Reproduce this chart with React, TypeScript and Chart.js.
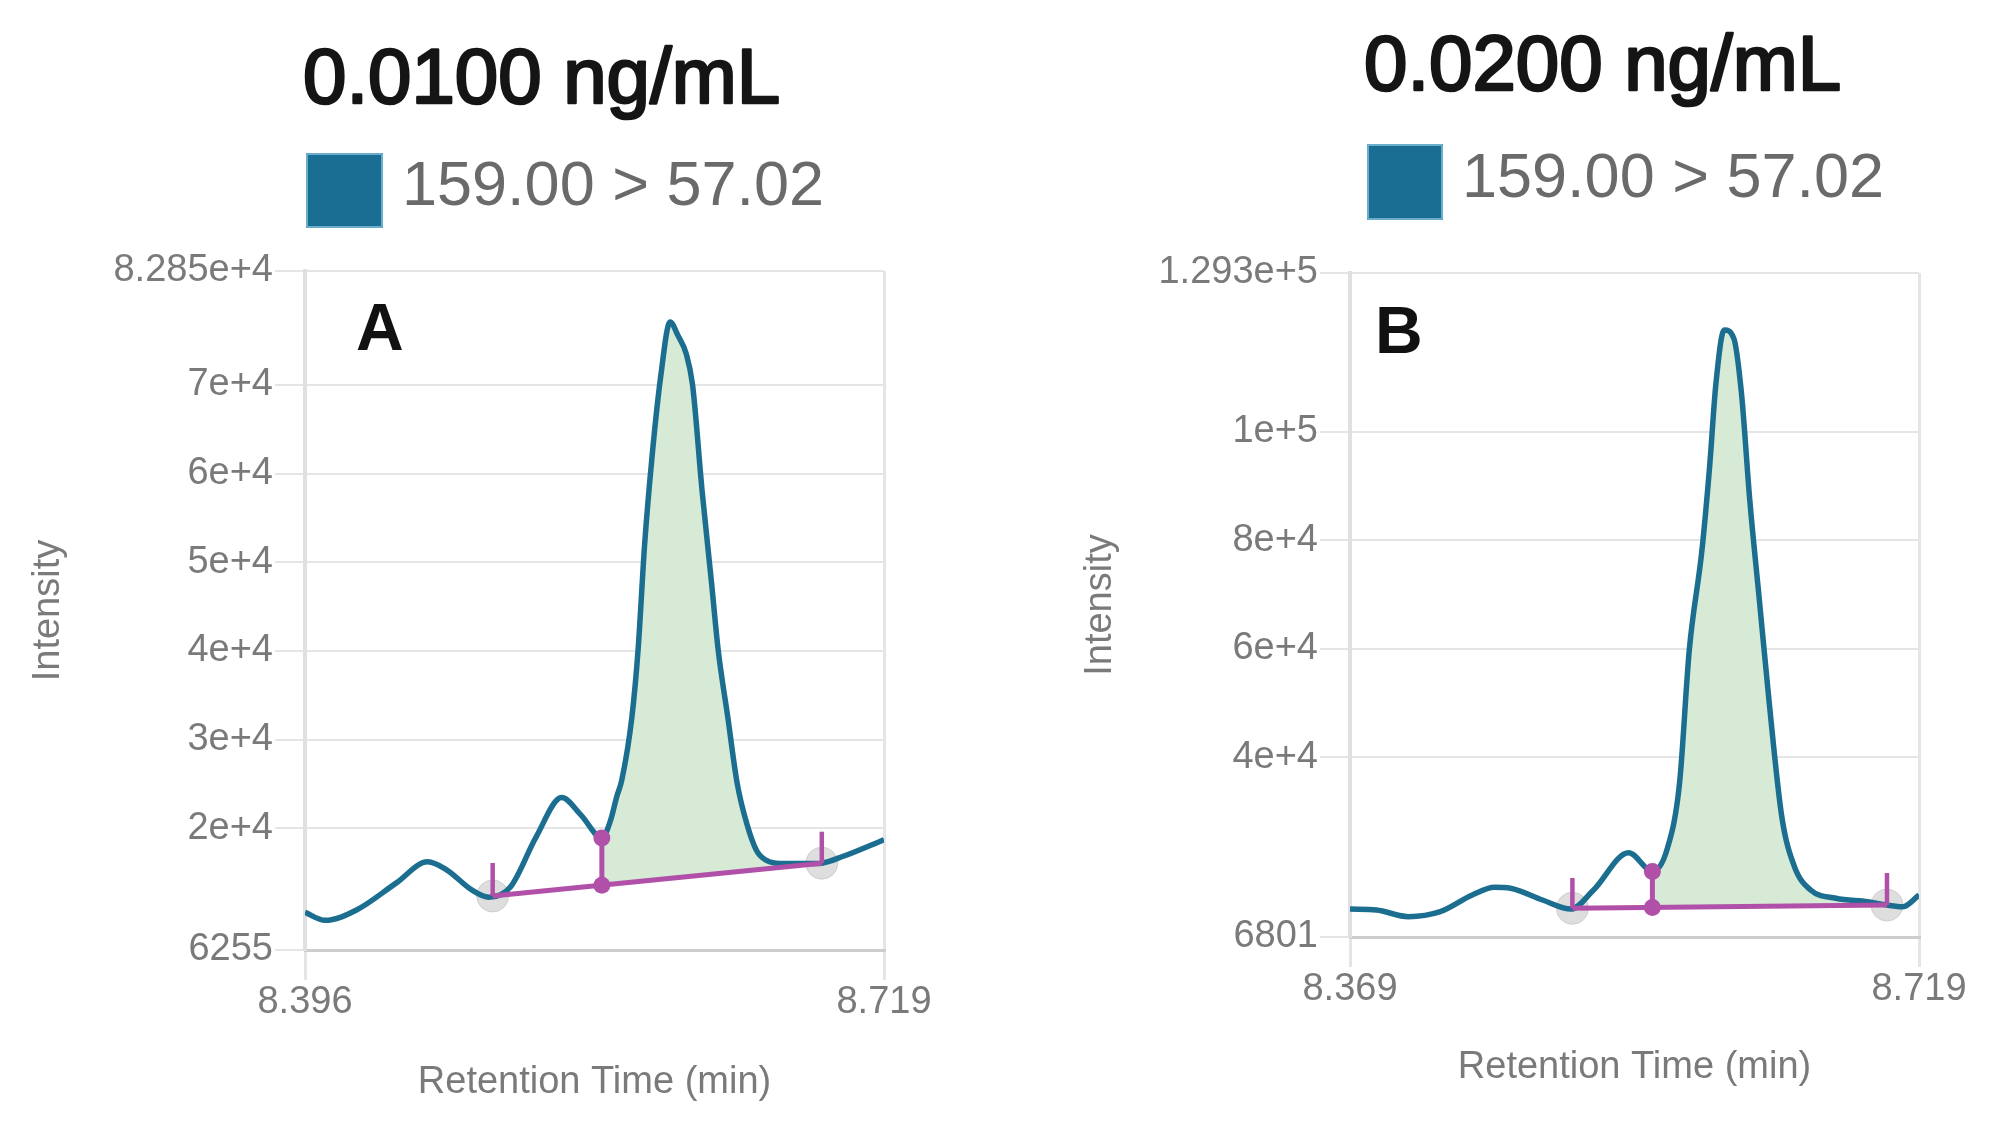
import React, { useEffect, useRef } from "react";
import { Chart, registerables } from "chart.js";

Chart.register(...registerables);

// ---------------- Shared labels ----------------
const transitionLabel = "159.00 > 57.02";
const xAxisTitle = "Retention Time (min)";
const yAxisTitle = "Intensity";

// ---------------- Panel A : 0.0100 ng/mL ----------------
const titleA = "0.0100 ng/mL";
const letterA = "A";
const rtA = [8.396, 8.4072, 8.425, 8.4468, 8.4644, 8.475, 8.4892, 8.4985, 8.5107, 8.5249, 8.5392, 8.5499, 8.5616, 8.5665, 8.5699, 8.5727, 8.5784, 8.5818, 8.5855, 8.5896, 8.5944, 8.5997, 8.604, 8.6087, 8.6122, 8.6175, 8.6228, 8.6265, 8.6318, 8.6371, 8.6424, 8.6478, 8.6531, 8.6638, 8.6781, 8.6843, 8.6959, 8.719];
const intensityA = [10500, 9600, 10800, 13800, 16200, 15300, 13000, 12200, 13400, 19000, 23450, 21500, 18900, 20900, 23550, 25400, 32600, 40100, 52100, 61900, 70900, 77100, 75600, 73500, 70000, 58100, 47650, 40100, 32600, 25050, 20540, 17500, 16400, 16000, 16000, 16050, 16800, 18700];
const baselineRtA = [8.5007, 8.6843];
const baselineIntA = [12350, 16050];
const splitRtA = 8.5616;
const splitIntA = [13550, 18900];
const startTickIntA = [12350, 16070];
const endTickIntA = [16050, 19600];
const xRangeA = [8.396, 8.719];
const yRangeA = [6255, 82850];
const xTicksA = [8.396, 8.719];
const xTickLabelsA = ["8.396", "8.719"];
const yTicksA = [6255, 20000, 30000, 40000, 50000, 60000, 70000, 82850];
const yTickLabelsA = ["6255", "2e+4", "3e+4", "4e+4", "5e+4", "6e+4", "7e+4", "8.285e+4"];

// ---------------- Panel B : 0.0200 ng/mL ----------------
const titleB = "0.0200 ng/mL";
const letterB = "B";
const rtB = [8.369, 8.3853, 8.4049, 8.4245, 8.4442, 8.458, 8.4677, 8.4874, 8.505, 8.5188, 8.5404, 8.555, 8.5639, 8.5717, 8.5777, 8.5855, 8.5902, 8.5941, 8.5992, 8.6051, 8.6098, 8.6149, 8.6208, 8.6267, 8.6346, 8.6424, 8.6523, 8.6679, 8.6876, 8.6993, 8.7092, 8.719];
const intensityB = [11950, 11780, 10550, 11470, 14550, 15970, 15800, 13630, 11950, 15470, 22350, 18900, 22850, 35160, 59750, 78200, 93560, 108950, 118780, 117240, 107100, 87420, 68970, 50520, 28990, 19770, 15470, 13940, 13310, 12700, 12390, 14550];
const baselineRtB = [8.5058, 8.6993];
const baselineIntB = [12100, 12700];
const splitRtB = 8.555;
const splitIntB = [12250, 18900];
const startTickIntB = [12100, 17690];
const endTickIntB = [12700, 18610];
const xRangeB = [8.369, 8.719];
const yRangeB = [6801, 129300];
const xTicksB = [8.369, 8.719];
const xTickLabelsB = ["8.369", "8.719"];
const yTicksB = [6801, 40000, 60000, 80000, 100000, 129300];
const yTickLabelsB = ["6801", "4e+4", "6e+4", "8e+4", "1e+5", "1.293e+5"];

// ---------------- Styles ----------------
const TEAL = "#1b6e8f";
const LEGEND_BOX = "#1a6e94";
const LEGEND_BOX_BORDER = "#6aaecb";
const MAGENTA = "#b050a8";
const AREA = "rgb(214, 234, 214)";
const GRID = "#e5e5e5";
const AXIS_TEXT = "#7a7a7a";
const FONT = '"Liberation Sans", Arial, Helvetica, sans-serif';

type Layout = {
  padTop: number; padRight: number; yWidth: number; xHeight: number;
  yTitlePad: number; xTitlePad: number;
  titleX: number; titleY: number;
  boxX: number; boxY: number; boxW: number; boxH: number;
  legendX: number; legendY: number;
  letterX: number; letterY: number;
};

type Panel = {
  title: string; letter: string;
  rt: number[]; intensity: number[];
  baseRt: number[]; baseInt: number[];
  splitRt: number; splitInt: number[];
  startTick: number[]; endTick: number[];
  xRange: number[]; yRange: number[];
  xTicks: number[]; xLabels: string[];
  yTicks: number[]; yLabels: string[];
  layout: Layout;
};

const panelA: Panel = {
  title: titleA, letter: letterA,
  rt: rtA, intensity: intensityA,
  baseRt: baselineRtA, baseInt: baselineIntA,
  splitRt: splitRtA, splitInt: splitIntA,
  startTick: startTickIntA, endTick: endTickIntA,
  xRange: xRangeA, yRange: yRangeA,
  xTicks: xTicksA, xLabels: xTickLabelsA,
  yTicks: yTicksA, yLabels: yTickLabelsA,
  layout: {
    padTop: 271, padRight: 116, yWidth: 305, xHeight: 186,
    yTitlePad: 26, xTitlePad: 31,
    titleX: 303, titleY: 103,
    boxX: 306, boxY: 153, boxW: 77, boxH: 75,
    legendX: 402, legendY: 205,
    letterX: 356, letterY: 350,
  },
};

const panelB: Panel = {
  title: titleB, letter: letterB,
  rt: rtB, intensity: intensityB,
  baseRt: baselineRtB, baseInt: baselineIntB,
  splitRt: splitRtB, splitInt: splitIntB,
  startTick: startTickIntB, endTick: endTickIntB,
  xRange: xRangeB, yRange: yRangeB,
  xTicks: xTicksB, xLabels: xTickLabelsB,
  yTicks: yTicksB, yLabels: yTickLabelsB,
  layout: {
    padTop: 273, padRight: 81, yWidth: 350, xHeight: 199,
    yTitlePad: 78, xTitlePad: 46,
    titleX: 364, titleY: 90,
    boxX: 367, boxY: 144, boxW: 76, boxH: 76,
    legendX: 462, legendY: 197,
    letterX: 375, letterY: 353,
  },
};

const headerPlugin = {
  id: "panelHeader",
  afterDraw(chart: any, _args: any, opts: any) {
    const ctx = chart.ctx as CanvasRenderingContext2D;
    ctx.save();
    ctx.textAlign = "left";
    ctx.textBaseline = "alphabetic";
    // title (regular face, thickened)
    ctx.fillStyle = "#151515";
    ctx.strokeStyle = "#151515";
    ctx.lineWidth = 2.6;
    ctx.lineJoin = "round";
    ctx.font = `78px ${FONT}`;
    ctx.fillText(opts.title, opts.titleX, opts.titleY);
    ctx.strokeText(opts.title, opts.titleX, opts.titleY);
    // legend swatch
    ctx.fillStyle = LEGEND_BOX;
    ctx.fillRect(opts.boxX, opts.boxY, opts.boxW, opts.boxH);
    ctx.strokeStyle = LEGEND_BOX_BORDER;
    ctx.lineWidth = 2;
    ctx.strokeRect(opts.boxX + 1, opts.boxY + 1, opts.boxW - 2, opts.boxH - 2);
    // legend label
    ctx.fillStyle = "#6a6a6a";
    ctx.font = `63px ${FONT}`;
    ctx.fillText(opts.legend, opts.legendX, opts.legendY);
    // panel letter
    ctx.fillStyle = "#111111";
    ctx.font = `bold 66px ${FONT}`;
    ctx.fillText(opts.letter, opts.letterX, opts.letterY);
    ctx.restore();
  },
};

function buildConfig(p: Panel): any {
  const L = p.layout;
  const trace = p.rt.map((x, i) => ({ x, y: p.intensity[i] }));
  const areaPts = trace.filter((pt) => pt.x >= p.splitRt - 1e-9 && pt.x <= p.baseRt[1] + 1e-9);
  const lineCommon = { pointRadius: 0, pointHoverRadius: 0, fill: false, tension: 0 };
  return {
    type: "line",
    data: {
      datasets: [
        {
          label: transitionLabel,
          data: trace,
          borderColor: TEAL,
          borderWidth: 5.5,
          cubicInterpolationMode: "monotone",
          ...lineCommon,
          order: 3,
        },
        {
          label: "area",
          data: areaPts,
          borderColor: "rgba(0,0,0,0)",
          borderWidth: 0,
          backgroundColor: AREA,
          cubicInterpolationMode: "monotone",
          pointRadius: 0,
          fill: { target: 2 },
          order: 5,
        },
        {
          label: "areaBase",
          data: [
            { x: p.splitRt, y: p.splitInt[0] },
            { x: p.baseRt[1], y: p.baseInt[1] },
          ],
          borderColor: "rgba(0,0,0,0)",
          borderWidth: 0,
          ...lineCommon,
          order: 6,
        },
        {
          label: "baseline",
          data: [
            { x: p.baseRt[0], y: p.baseInt[0] },
            { x: p.baseRt[1], y: p.baseInt[1] },
          ],
          borderColor: MAGENTA,
          borderWidth: 5,
          ...lineCommon,
          order: 1,
        },
        {
          label: "startTick",
          data: [
            { x: p.baseRt[0], y: p.startTick[0] },
            { x: p.baseRt[0], y: p.startTick[1] },
          ],
          borderColor: MAGENTA,
          borderWidth: 4.5,
          ...lineCommon,
          order: 1,
        },
        {
          label: "endTick",
          data: [
            { x: p.baseRt[1], y: p.endTick[0] },
            { x: p.baseRt[1], y: p.endTick[1] },
          ],
          borderColor: MAGENTA,
          borderWidth: 4.5,
          ...lineCommon,
          order: 1,
        },
        {
          label: "split",
          data: [
            { x: p.splitRt, y: p.splitInt[0] },
            { x: p.splitRt, y: p.splitInt[1] },
          ],
          borderColor: MAGENTA,
          borderWidth: 5,
          fill: false,
          tension: 0,
          pointRadius: 8.5,
          pointBackgroundColor: MAGENTA,
          pointBorderWidth: 0,
          order: 0,
        },
        {
          label: "bounds",
          data: [
            { x: p.baseRt[0], y: p.baseInt[0] },
            { x: p.baseRt[1], y: p.baseInt[1] },
          ],
          showLine: false,
          pointRadius: 16,
          pointBackgroundColor: "rgba(200,200,200,0.6)",
          pointBorderColor: "rgba(195,195,195,0.7)",
          pointBorderWidth: 1,
          order: 7,
        },
      ],
    },
    options: {
      responsive: false,
      animation: false,
      events: [],
      layout: { padding: { top: L.padTop, right: L.padRight, left: 0, bottom: 0 } },
      plugins: {
        legend: { display: false },
        tooltip: { enabled: false },
        title: { display: false },
        panelHeader: {
          title: p.title,
          legend: transitionLabel,
          letter: p.letter,
          titleX: L.titleX, titleY: L.titleY,
          boxX: L.boxX, boxY: L.boxY, boxW: L.boxW, boxH: L.boxH,
          legendX: L.legendX, legendY: L.legendY,
          letterX: L.letterX, letterY: L.letterY,
        },
      },
      scales: {
        x: {
          type: "linear",
          min: p.xRange[0],
          max: p.xRange[1],
          afterBuildTicks: (axis: any) => {
            axis.ticks = p.xTicks.map((v) => ({ value: v }));
          },
          afterFit: (axis: any) => {
            axis.height = L.xHeight;
          },
          ticks: {
            autoSkip: false,
            maxRotation: 0,
            padding: 0,
            color: AXIS_TEXT,
            font: { family: FONT, size: 38 },
            callback: (_v: any, i: number) => p.xLabels[i],
          },
          grid: { color: GRID, lineWidth: 3, tickLength: 30, drawTicks: true },
          border: { display: true, color: "#cdcdcd", width: 3 },
          title: {
            display: true,
            text: xAxisTitle,
            color: AXIS_TEXT,
            font: { family: FONT, size: 38 },
            padding: { top: 0, bottom: L.xTitlePad },
          },
        },
        y: {
          type: "linear",
          min: p.yRange[0],
          max: p.yRange[1],
          afterBuildTicks: (axis: any) => {
            axis.ticks = p.yTicks.map((v) => ({ value: v }));
          },
          afterFit: (axis: any) => {
            axis.width = L.yWidth;
          },
          ticks: {
            autoSkip: false,
            padding: 2,
            color: AXIS_TEXT,
            font: { family: FONT, size: 38 },
            callback: (_v: any, i: number) => p.yLabels[i],
          },
          grid: { color: GRID, lineWidth: 2, tickLength: 30, drawTicks: true },
          border: { display: true, color: "#e0e0e0", width: 4 },
          title: {
            display: true,
            text: yAxisTitle,
            color: AXIS_TEXT,
            font: { family: FONT, size: 38 },
            padding: { top: L.yTitlePad, bottom: 0 },
          },
        },
      },
    },
    plugins: [headerPlugin],
  };
}

function PanelChart({ panel, left }: { panel: Panel; left: number }) {
  const ref = useRef<HTMLCanvasElement | null>(null);
  useEffect(() => {
    if (!ref.current) return;
    const chart = new Chart(ref.current, buildConfig(panel));
    return () => chart.destroy();
  }, [panel]);
  return (
    <div style={{ position: "absolute", left, top: 0, width: 1000, height: 1136 }}>
      <canvas ref={ref} width={1000} height={1136} style={{ width: 1000, height: 1136, display: "block" }} />
    </div>
  );
}

export default function App() {
  return (
    <div style={{ position: "fixed", left: 0, top: 0, width: 2000, height: 1136, background: "#ffffff", overflow: "hidden" }}>
      <PanelChart panel={panelA} left={0} />
      <PanelChart panel={panelB} left={1000} />
    </div>
  );
}
